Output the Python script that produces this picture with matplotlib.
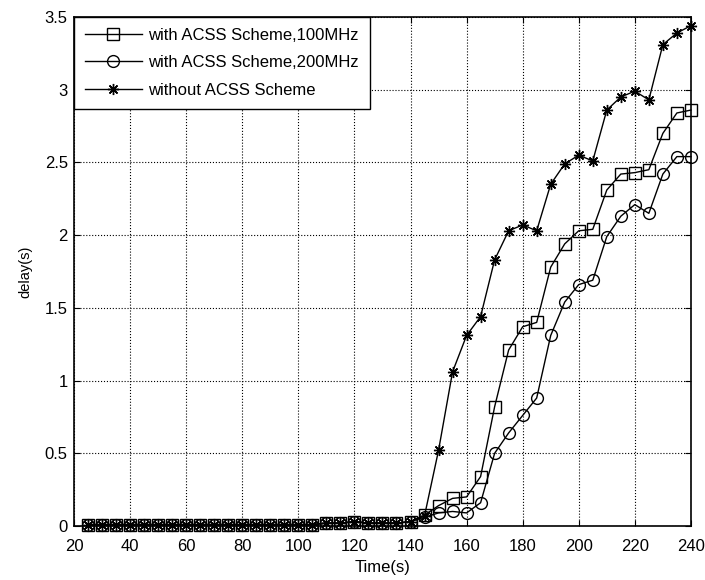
import numpy as np
import matplotlib
matplotlib.use("Agg")
import matplotlib.pyplot as plt

plt.rcParams['font.family'] = ['Liberation Sans', 'DejaVu Sans']

# time axis (s)
tiempo = list(range(25, 245, 5))

# near-zero part shared by all three curves (25 .. 140)
base = [0.01] * 17 + [0.02, 0.02, 0.03, 0.02, 0.02, 0.02, 0.03]

acss_100 = base + [0.075, 0.14, 0.19, 0.20, 0.34, 0.82, 1.21, 1.37, 1.40, 1.78,
                   1.94, 2.03, 2.04, 2.31, 2.42, 2.43, 2.45, 2.70, 2.84, 2.86]
acss_200 = base + [0.06, 0.09, 0.10, 0.09, 0.16, 0.50, 0.64, 0.76, 0.88, 1.31,
                   1.54, 1.66, 1.69, 1.99, 2.13, 2.21, 2.15, 2.42, 2.54, 2.54]
sem_acss = base + [0.07, 0.52, 1.06, 1.31, 1.44, 1.83, 2.03, 2.07, 2.03, 2.35,
                   2.49, 2.55, 2.51, 2.86, 2.95, 2.99, 2.93, 3.31, 3.39, 3.44]

rotulos = ['with ACSS Scheme,100MHz', 'with ACSS Scheme,200MHz', 'without ACSS Scheme']

fig = plt.figure(figsize=(7.05, 5.8), dpi=100)
ax = fig.add_axes([0.105, 0.0931, 0.875, 0.8776])

estilo = dict(color='black', lw=1.0, mfc='none', mec='black', mew=1.0, clip_on=False)
ax.plot(tiempo, acss_100, marker='s', ms=8.5, label=rotulos[0], **estilo)
ax.plot(tiempo, acss_200, marker='o', ms=8.5, label=rotulos[1], **estilo)
ax.plot(tiempo, sem_acss, marker=(8, 2, 0), ms=8, label=rotulos[2], **estilo)

ax.set_xlim(20, 240)
ax.set_ylim(0, 3.5)
ax.set_xticks(range(20, 241, 20))
ax.set_yticks(np.arange(0, 3.51, 0.5))
ax.set_yticklabels(['0', '0.5', '1', '1.5', '2', '2.5', '3', '3.5'])
ax.tick_params(direction='in', top=True, right=True, labelsize=12, length=4, width=0.8)
ax.tick_params(axis='x', pad=9)
ax.tick_params(axis='y', pad=4.5)
ax.grid(True, color='black', linestyle=':', lw=0.8)
for s in ax.spines.values():
    s.set_linewidth(1.2)

ax.set_xlabel('Time(s)', fontsize=12, labelpad=5)
ax.set_ylabel('delay(s)', fontsize=10.5, labelpad=9)

leg = ax.legend(loc='upper left', fontsize=12, handlelength=3.4, handletextpad=0.4,
                labelspacing=0.75, borderaxespad=0, borderpad=0.65, fancybox=False,
                framealpha=1, edgecolor='black')
leg.get_frame().set_linewidth(1.0)

fig.savefig('out.png', dpi=100)
